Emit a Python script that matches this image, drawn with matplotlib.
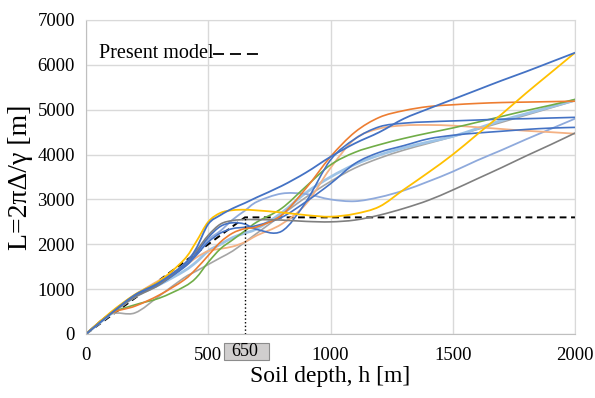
import matplotlib
matplotlib.use("Agg")
import matplotlib.pyplot as plt
from matplotlib.patches import Rectangle, PathPatch
from matplotlib.path import Path
from matplotlib.lines import Line2D

# ---- data ----
depth = [0, 100, 200, 300, 400, 450, 500, 550, 600, 650, 700, 800, 900,
         1000, 1100, 1200, 1300, 1400, 1500, 1600, 1700, 1800, 1900, 2000]

blue_top   = [0, 450, 870, 1150, 1550, 1900, 2450, 2650, 2800, 2920, 3050, 3300, 3600,
              3950, 4250, 4500, 4800, 5020, 5230, 5440, 5650, 5850, 6060, 6270]
blue_dip   = [0, 450, 850, 1100, 1500, 1800, 2150, 2400, 2480, 2450, 2330, 2290, 2950,
              3880, 4350, 4620, 4700, 4730, 4750, 4770, 4790, 4800, 4815, 4830]
blue_low   = [0, 460, 860, 1120, 1480, 1750, 2050, 2250, 2350, 2380, 2420, 2600, 2950,
              3350, 3800, 4050, 4200, 4350, 4430, 4480, 4520, 4560, 4590, 4606]
orange     = [0, 450, 620, 870, 1200, 1450, 1750, 2050, 2250, 2350, 2390, 2650, 3250,
              3950, 4500, 4830, 4980, 5070, 5110, 5140, 5160, 5170, 5180, 5190]
green      = [0, 450, 650, 800, 1050, 1250, 1600, 1900, 2100, 2300, 2500, 2800, 3290,
              3770, 4050, 4220, 4360, 4480, 4593, 4720, 4850, 4980, 5100, 5230]
salmon     = [0, 470, 870, 1200, 1500, 1700, 1850, 1900, 1950, 2050, 2200, 2450, 2900,
              3700, 4350, 4580, 4650, 4660, 4645, 4610, 4570, 4530, 4500, 4465]
lavender   = [0, 450, 850, 1150, 1500, 1750, 2100, 2300, 2550, 2750, 2950, 3130, 3120,
              3000, 2960, 3050, 3200, 3400, 3620, 3870, 4100, 4340, 4570, 4800]
light_blue = [0, 440, 830, 1100, 1400, 1600, 1850, 2000, 2150, 2250, 2350, 2700, 3150,
              3500, 3780, 3990, 4150, 4280, 4405, 4580, 4760, 4910, 5060, 5215]
light_gray = [0, 440, 470, 850, 1250, 1400, 1550, 1700, 1850, 2050, 2250, 2650, 3050,
              3400, 3700, 3920, 4100, 4250, 4400, 4560, 4720, 4880, 5040, 5200]
yellow     = [0, 480, 880, 1180, 1650, 2050, 2500, 2700, 2760, 2770, 2755, 2710, 2650,
              2615, 2680, 2840, 3220, 3600, 4000, 4450, 4900, 5370, 5820, 6270]
dark_gray  = [0, 450, 820, 1100, 1550, 1850, 2200, 2450, 2530, 2550, 2550, 2540, 2510,
              2500, 2540, 2650, 2800, 2980, 3210, 3460, 3710, 3970, 4220, 4480]

model_h = [0, 650, 2000]
model_L = [0, 2600, 2600]
marker_h = 650
marker_L = 2600

xticks = [0, 500, 1000, 1500, 2000]
yticks = [0, 1000, 2000, 3000, 4000, 5000, 6000, 7000]

serif = "Liberation Serif"


def smooth_path(xs, ys):
    """Excel-style smoothed line: cubic Bezier segments through the data points."""
    n = len(xs)
    verts = [(xs[0], ys[0])]
    codes = [Path.MOVETO]
    for i in range(n - 1):
        x0, y0 = (xs[i - 1], ys[i - 1]) if i > 0 else (xs[i], ys[i])
        x1, y1 = xs[i], ys[i]
        x2, y2 = xs[i + 1], ys[i + 1]
        x3, y3 = (xs[i + 2], ys[i + 2]) if i + 2 < n else (xs[i + 1], ys[i + 1])
        c1 = (x1 + (x2 - x0) / 6.0, y1 + (y2 - y0) / 6.0)
        c2 = (x2 - (x3 - x1) / 6.0, y2 - (y3 - y1) / 6.0)
        verts += [c1, c2, (x2, y2)]
        codes += [Path.CURVE4] * 3
    return Path(verts, codes)


fig = plt.figure(figsize=(5.95, 3.98), dpi=100)
ax = fig.add_axes([86/595, 64/398, 489/595, 314/398])

series = [
    (light_gray, "#A5A5A5", 1.2),
    (light_blue, "#9DC3E6", 2.0),
    (lavender, "#8FAADC", 1.3),
    (salmon, "#F4B183", 1.3),
    (green, "#70AD47", 1.2),
    (blue_low, "#4472C4", 1.2),
    (blue_dip, "#4472C4", 1.2),
    (orange, "#ED7D31", 1.2),
    (dark_gray, "#7F7F7F", 1.2),
    (yellow, "#FFC000", 1.3),
    (blue_top, "#4472C4", 1.3),
]
for vals, col, lw in series:
    ax.add_patch(PathPatch(smooth_path(depth, vals), fill=False, edgecolor=col,
                           lw=lw, capstyle="round", zorder=2))

ax.plot(model_h, model_L, color="black", lw=1.4, ls=(0, (3.5, 2.35)), zorder=1.8)
ax.plot([marker_h, marker_h], [0, marker_L], color="black", lw=1.0, ls=":", zorder=5)

ax.set_xlim(0, 2000)
ax.set_ylim(0, 7000)
ax.set_xticks(xticks)
ax.set_yticks(yticks)
ax.grid(True, color="#D9D9D9", lw=1.0, zorder=0)
ax.set_axisbelow(True)
for s in ax.spines.values():
    s.set_color("#D9D9D9")
ax.spines["left"].set_color("#BFBFBF")
ax.spines["bottom"].set_color("#BFBFBF")
ax.tick_params(length=0, labelsize=13.5, pad=8)
ax.tick_params(axis="x", pad=9)
for lab in ax.get_xticklabels() + ax.get_yticklabels():
    lab.set_family(serif)

ax.set_xlabel("Soil depth, h [m]", family=serif, fontsize=17, labelpad=2)
ax.set_ylabel("L=2πΔ/γ [m]", family=serif, fontsize=20, labelpad=3)

# 650 marker box under the axis
tr = ax.get_xaxis_transform()
ax.add_patch(Rectangle((564, -0.083), 184, 0.054, transform=tr, clip_on=False,
                       facecolor="#D0CECE", edgecolor="#8C8C8C", lw=0.8, zorder=6))
ax.text(marker_h, -0.056, "650", transform=tr, ha="center", va="center",
        family=serif, fontsize=13, zorder=7, clip_on=False)

# legend-like annotation
ax.text(0.027, 0.893, "Present model", transform=ax.transAxes, ha="left", va="center",
        family=serif, fontsize=14.5)
ax.add_line(Line2D([0.260, 0.352], [0.893, 0.893], transform=ax.transAxes,
                   color="black", lw=1.3, ls=(0, (6.1, 3.3))))

fig.savefig("out.png", dpi=100)
